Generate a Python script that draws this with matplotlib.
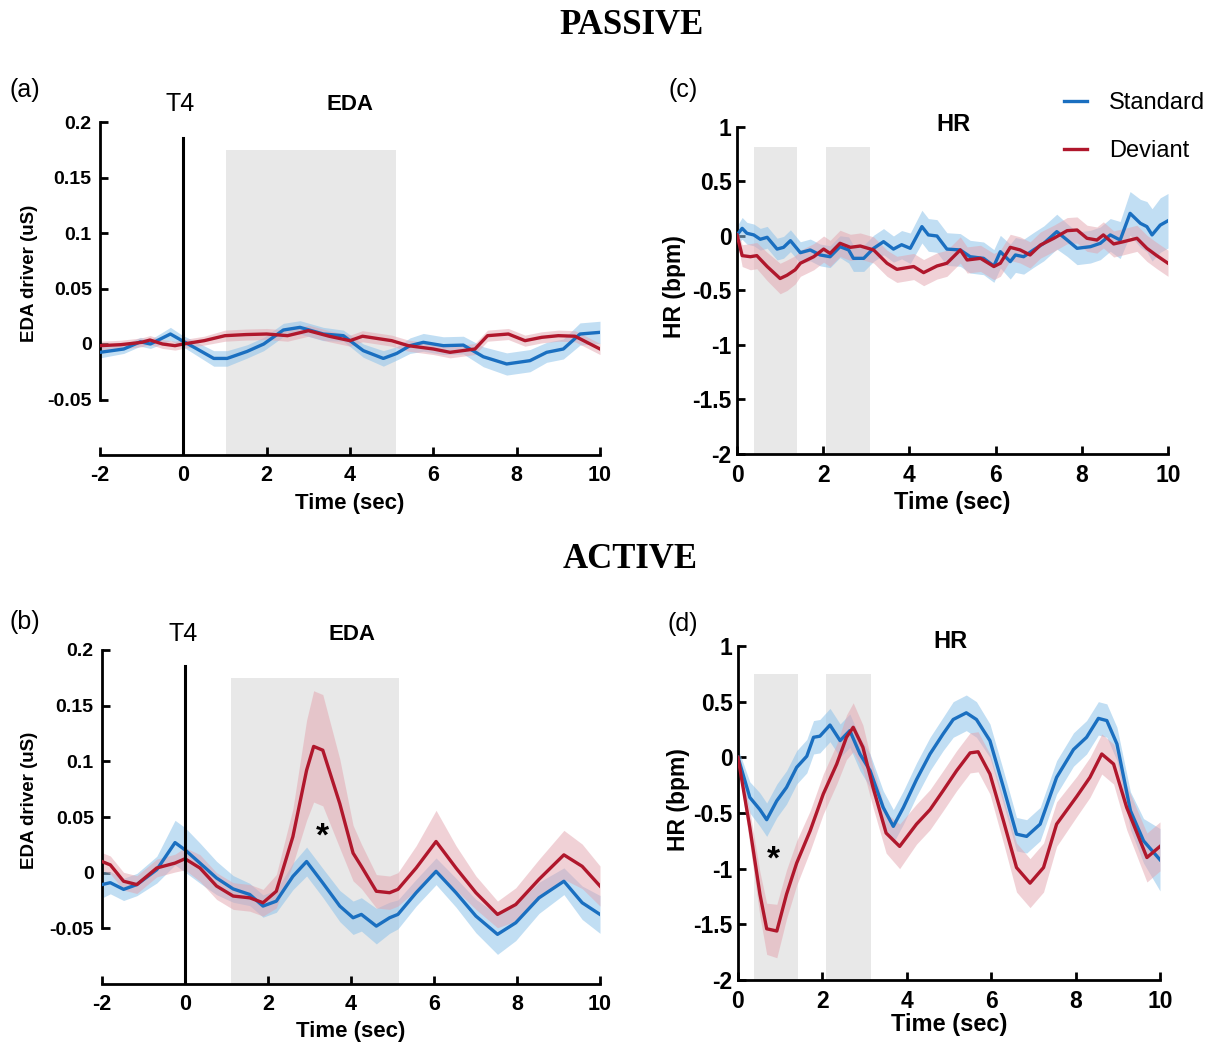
import matplotlib
matplotlib.use("Agg")
import matplotlib.pyplot as plt
import numpy as np

plt.rcParams['font.family'] = ['Liberation Sans', 'DejaVu Sans']

# ---------------- data ----------------
# (a) passive EDA
a_std_t = [-2, -1.43, -1.03, -0.79, -0.31, -0.03, 0.33, 0.73, 1.05, 1.53, 1.93, 2.4, 2.8, 3.36, 3.84,
           4.32, 4.8, 5.12, 5.44, 5.76, 6.24, 6.72, 7.2, 7.76, 8.32, 8.72, 9.12, 9.52, 10]
a_std = [-0.0075, -0.0045, 0.002, 0.0, 0.009, 0.003, -0.0045, -0.013, -0.013, -0.0067, 0.0, 0.0126, 0.015,
         0.009, 0.0075, -0.006, -0.013, -0.0085, -0.0015, 0.0015, -0.0015, -0.001, -0.0115, -0.018, -0.015,
         -0.0075, -0.0045, 0.009, 0.0105]
a_std_sem = [0.005, 0.004, 0.004, 0.004, 0.006, 0.005, 0.006, 0.007, 0.007, 0.006, 0.006, 0.006, 0.006, 0.006,
             0.005, 0.006, 0.007, 0.006, 0.007, 0.008, 0.008, 0.008, 0.009, 0.01, 0.01, 0.009, 0.009, 0.01, 0.01]
a_dev_t = [-2, -1.5, -1.0, -0.8, -0.5, -0.2, 0, 0.5, 1.0, 1.5, 2.0, 2.5, 3.0, 3.5, 4.0, 4.3, 5.0, 5.4, 6.0,
           6.4, 7.0, 7.3, 7.8, 8.2, 8.6, 9.0, 9.4, 10]
a_dev = [-0.0015, -0.0006, 0.0015, 0.0036, 0.0, -0.0015, 0.0, 0.003, 0.0075, 0.0085, 0.009, 0.0075, 0.012,
         0.007, 0.003, 0.007, 0.003, -0.0015, -0.0045, -0.0075, -0.0045, 0.0075, 0.009, 0.003, 0.006, 0.0075,
         0.007, -0.0045]
a_dev_sem = [0.004, 0.004, 0.004, 0.004, 0.004, 0.004, 0.004, 0.004, 0.005, 0.005, 0.005, 0.005, 0.005, 0.005,
             0.005, 0.005, 0.005, 0.005, 0.005, 0.005, 0.005, 0.005, 0.005, 0.005, 0.005, 0.005, 0.005, 0.005]

# (b) active EDA
b_std_t = [-2, -1.8, -1.48, -1.16, -0.68, -0.24, 0, 0.36, 0.76, 1.16, 1.56, 1.88, 2.2, 2.6, 2.93, 3.32, 3.73,
           4.05, 4.25, 4.61, 4.93, 5.13, 5.57, 6.05, 6.53, 7.01, 7.53, 7.97, 8.53, 9.13, 9.57, 10]
b_std = [-0.0107, -0.009, -0.015, -0.0107, 0.0027, 0.027, 0.0205, 0.0086, -0.0048, -0.0146, -0.0196, -0.030,
         -0.0256, -0.0033, 0.010, -0.0092, -0.030, -0.0405, -0.0375, -0.048, -0.0405, -0.0375, -0.018, 0.0012,
         -0.018, -0.039, -0.0554, -0.045, -0.0226, -0.0077, -0.027, -0.0375]
b_std_sem = [0.012, 0.01, 0.01, 0.01, 0.012, 0.02, 0.02, 0.018, 0.015, 0.012, 0.01, 0.01, 0.01, 0.012, 0.013,
             0.013, 0.014, 0.015, 0.015, 0.016, 0.014, 0.013, 0.012, 0.012, 0.013, 0.015, 0.018, 0.016, 0.014,
             0.012, 0.015, 0.017]
b_dev_t = [-2, -1.8, -1.48, -1.16, -0.68, -0.24, 0, 0.36, 0.76, 1.16, 1.56, 1.88, 2.2, 2.6, 2.93, 3.1, 3.32,
           3.73, 4.05, 4.25, 4.61, 4.93, 5.13, 5.57, 6.05, 6.53, 7.01, 7.53, 7.97, 8.53, 9.13, 9.57, 10]
b_dev = [0.010, 0.007, -0.0077, -0.0107, 0.0042, 0.0086, 0.0125, 0.0042, -0.012, -0.021, -0.0226, -0.027,
         -0.0167, 0.0324, 0.092, 0.1134, 0.11, 0.062, 0.0176, 0.0057, -0.0167, -0.018, -0.015, 0.0042, 0.028,
         0.0042, -0.018, -0.0375, -0.0286, -0.006, 0.016, 0.0057, -0.012]
b_dev_sem = [0.008, 0.008, 0.008, 0.008, 0.008, 0.008, 0.01, 0.012, 0.012, 0.012, 0.012, 0.012, 0.015, 0.025,
             0.045, 0.05, 0.05, 0.04, 0.025, 0.02, 0.015, 0.015, 0.015, 0.02, 0.028, 0.02, 0.015, 0.012, 0.015,
             0.018, 0.022, 0.02, 0.018]

# (c) passive HR
c_std_t = [0, 0.12, 0.23, 0.39, 0.54, 0.7, 0.93, 1.08, 1.24, 1.47, 1.7, 1.93, 2.16, 2.39, 2.59, 2.7, 2.94, 3.17,
           3.4, 3.63, 3.82, 4.02, 4.29, 4.44, 4.64, 4.87, 5.18, 5.41, 5.72, 5.96, 6.11, 6.34, 6.46, 6.65, 6.88,
           7.12, 7.42, 7.66, 7.89, 8.2, 8.43, 8.66, 8.89, 9.12, 9.36, 9.51, 9.63, 9.82, 10]
c_std = [0.01, 0.07, 0.025, 0.01, -0.03, -0.012, -0.12, -0.104, -0.043, -0.153, -0.128, -0.174, -0.19, -0.098,
         -0.128, -0.205, -0.205, -0.113, -0.052, -0.12, -0.08, -0.113, 0.086, 0.01, 0.0, -0.12, -0.128, -0.19,
         -0.205, -0.275, -0.144, -0.235, -0.174, -0.19, -0.128, -0.067, 0.04, -0.037, -0.113, -0.098, -0.067,
         0.01, -0.037, 0.208, 0.116, 0.086, 0.01, 0.1, 0.14]
c_std_sem = [0.08, 0.1, 0.1, 0.1, 0.1, 0.1, 0.1, 0.1, 0.1, 0.1, 0.1, 0.1, 0.1, 0.1, 0.12, 0.12, 0.12, 0.12, 0.12,
             0.12, 0.13, 0.14, 0.15, 0.15, 0.15, 0.15, 0.15, 0.15, 0.15, 0.15, 0.15, 0.16, 0.16, 0.16, 0.16, 0.16,
             0.16, 0.15, 0.15, 0.15, 0.15, 0.15, 0.17, 0.2, 0.22, 0.23, 0.24, 0.25, 0.25]
c_dev_t = [0, 0.12, 0.31, 0.46, 0.7, 1.0, 1.16, 1.35, 1.47, 1.78, 2.01, 2.16, 2.39, 2.63, 2.86, 3.17, 3.48, 3.71,
           4.1, 4.33, 4.64, 4.87, 5.18, 5.34, 5.65, 5.96, 6.11, 6.34, 6.57, 6.8, 7.04, 7.35, 7.66, 7.89, 8.12,
           8.35, 8.5, 8.74, 8.97, 9.28, 9.51, 9.74, 10]
c_dev = [0.01, -0.18, -0.19, -0.18, -0.28, -0.39, -0.36, -0.31, -0.25, -0.19, -0.12, -0.16, -0.067, -0.104,
         -0.092, -0.128, -0.25, -0.306, -0.28, -0.336, -0.275, -0.25, -0.128, -0.22, -0.205, -0.28, -0.25,
         -0.104, -0.128, -0.174, -0.083, -0.021, 0.049, 0.055, -0.021, -0.037, 0.01, -0.073, -0.052, -0.021,
         -0.113, -0.18, -0.25]
c_dev_sem = [0.05, 0.1, 0.12, 0.12, 0.13, 0.14, 0.14, 0.13, 0.12, 0.12, 0.12, 0.12, 0.12, 0.12, 0.12, 0.12,
             0.12, 0.12, 0.12, 0.12, 0.12, 0.12, 0.12, 0.12, 0.12, 0.12, 0.12, 0.12, 0.12, 0.12, 0.12, 0.12,
             0.12, 0.12, 0.12, 0.12, 0.12, 0.12, 0.12, 0.12, 0.12, 0.12, 0.12]

# (d) active HR
d_std_t = [0, 0.28, 0.52, 0.68, 0.92, 1.15, 1.39, 1.63, 1.79, 1.94, 2.18, 2.42, 2.65, 2.89, 3.13, 3.44, 3.68,
           3.92, 4.23, 4.55, 4.86, 5.1, 5.41, 5.65, 5.97, 6.29, 6.6, 6.84, 7.16, 7.55, 7.95, 8.26, 8.54, 8.74,
           8.98, 9.3, 9.61, 10]
d_std = [0.0, -0.36, -0.47, -0.56, -0.39, -0.27, -0.09, 0.01, 0.18, 0.19, 0.29, 0.15, 0.24, 0.03, -0.12, -0.45,
         -0.62, -0.45, -0.2, 0.03, 0.21, 0.34, 0.4, 0.34, 0.15, -0.27, -0.69, -0.71, -0.6, -0.18, 0.07, 0.18,
         0.35, 0.33, 0.12, -0.48, -0.75, -0.92]
d_std_sem = [0.08, 0.14, 0.15, 0.15, 0.15, 0.15, 0.15, 0.15, 0.15, 0.15, 0.15, 0.15, 0.15, 0.15, 0.15, 0.15,
             0.15, 0.15, 0.15, 0.15, 0.15, 0.16, 0.16, 0.16, 0.15, 0.15, 0.15, 0.15, 0.15, 0.15, 0.15, 0.15,
             0.15, 0.15, 0.15, 0.17, 0.2, 0.28]
d_dev_t = [0, 0.28, 0.52, 0.68, 0.92, 1.15, 1.39, 1.71, 2.02, 2.34, 2.57, 2.73, 2.96, 3.2, 3.51, 3.83, 4.23,
           4.55, 4.86, 5.18, 5.5, 5.69, 5.97, 6.29, 6.6, 6.92, 7.24, 7.55, 8.03, 8.34, 8.62, 8.9, 9.21, 9.69, 10]
d_dev = [0.0, -0.63, -1.23, -1.54, -1.56, -1.23, -0.95, -0.66, -0.33, -0.06, 0.18, 0.27, 0.09, -0.27, -0.68,
         -0.8, -0.6, -0.47, -0.3, -0.12, 0.04, 0.05, -0.15, -0.57, -0.99, -1.13, -0.99, -0.6, -0.35, -0.18,
         0.03, -0.06, -0.45, -0.9, -0.8]
d_dev_sem = [0.05, 0.15, 0.2, 0.23, 0.24, 0.22, 0.2, 0.18, 0.18, 0.18, 0.2, 0.22, 0.2, 0.18, 0.18, 0.2, 0.18,
             0.18, 0.18, 0.18, 0.18, 0.18, 0.18, 0.2, 0.22, 0.22, 0.22, 0.2, 0.18, 0.18, 0.18, 0.18, 0.2, 0.22,
             0.22]

legend_labels = ['Standard', 'Deviant']
eda_yticks = [-0.05, 0, 0.05, 0.1, 0.15, 0.2]
eda_yticklabels = ['-0.05', '0', '0.05', '0.1', '0.15', '0.2']
eda_xticks = [-2, 0, 2, 4, 6, 8, 10]
hr_yticks = [-2, -1.5, -1, -0.5, 0, 0.5, 1]
hr_yticklabels = ['-2', '-1.5', '-1', '-0.5', '0', '0.5', '1']
hr_xticks = [0, 2, 4, 6, 8, 10]

# analysis windows (shaded)
a_window = [(1.03, 5.1)]
b_window = [(1.1, 5.15)]
c_windows = [(0.4, 1.4), (2.07, 3.08)]
d_windows = [(0.38, 1.42), (2.09, 3.16)]
eda_shade_top = 0.175
c_shade_top = 0.82
d_shade_top = 0.75
t4_time = 0
t4_top = 0.186
b_star = (3.3, 0.032)
d_star = (0.83, -0.92)

BLUE = '#1a6fc0'
RED = '#b0172c'
BAND_BLUE = '#8ec3ea'
BAND_RED = '#e3a4ae'
SHADE = '#e8e8e8'

W, H = 1215, 1046
fig = plt.figure(figsize=(W / 100, H / 100), dpi=100)


def rect(x0, x1, ytop, ybot):
    return [x0 / W, 1 - ybot / H, (x1 - x0) / W, (ybot - ytop) / H]


RA = (100, 600, 122, 455)
RB = (102, 600, 650, 984)
RC = (737, 1168, 127, 454)
RD = (738, 1160, 646, 980)
ax_a = fig.add_axes(rect(*RA))
ax_b = fig.add_axes(rect(*RB))
ax_c = fig.add_axes(rect(*RC))
ax_d = fig.add_axes(rect(*RD))


def style(ax, r, xlim, ylim, ybounds, xticks, yticks, yticklabels, ylabel, fs_x, fs_y, fs_xl, fs_yl,
          xl_y, yl_pos, ypad):
    ax.set_xlim(*xlim)
    ax.set_ylim(*ylim)
    for s in ['top', 'right']:
        ax.spines[s].set_visible(False)
    ax.spines['left'].set_bounds(*ybounds)
    ax.spines['left'].set_linewidth(2)
    ax.spines['bottom'].set_linewidth(2)
    ax.set_xticks(xticks)
    ax.set_xticklabels([str(t) for t in xticks])
    ax.set_yticks(yticks)
    ax.set_yticklabels(yticklabels)
    ax.tick_params(direction='in', length=6, width=2)
    ax.tick_params(axis='x', labelsize=fs_x, pad=7)
    ax.tick_params(axis='y', labelsize=fs_y, pad=ypad)
    for lab in ax.get_xticklabels() + ax.get_yticklabels():
        lab.set_fontweight('bold')
    x0, x1, yt, yb = r
    ax.set_xlabel('Time (sec)', fontsize=fs_xl, fontweight='bold')
    ax.xaxis.set_label_coords(((x0 + x1) / 2 - x0) / (x1 - x0), (yb - xl_y) / (yb - yt))
    ax.xaxis.label.set_va('center')
    ax.set_ylabel(ylabel, fontsize=fs_yl, fontweight='bold')
    ax.yaxis.set_label_coords((yl_pos[0] - x0) / (x1 - x0), (yb - yl_pos[1]) / (yb - yt))
    ax.yaxis.label.set_va('center')
    ax.patch.set_alpha(0)


def series(ax, t, y, sem, color, band, alpha):
    t = np.asarray(t); y = np.asarray(y); sem = np.asarray(sem)
    ax.fill_between(t, y - sem, y + sem, color=band, alpha=alpha, lw=0, zorder=2)
    line, = ax.plot(t, y, color=color, lw=2.4, zorder=3)
    return line


def shades(ax, windows, ybot, ytop):
    for x0, x1 in windows:
        ax.fill_between([x0, x1], ybot, ytop, color=SHADE, lw=0, zorder=0)


# ---- (a)
shades(ax_a, a_window, -0.1, eda_shade_top)
series(ax_a, a_std_t, a_std, a_std_sem, BLUE, BAND_BLUE, 0.55)
series(ax_a, a_dev_t, a_dev, a_dev_sem, RED, BAND_RED, 0.5)
ax_a.plot([t4_time, t4_time], [-0.1, t4_top], color='black', lw=2.2, zorder=4)
style(ax_a, RA, (-2, 10), (-0.1, 0.2), (-0.05, 0.2), eda_xticks, eda_yticks, eda_yticklabels,
      'EDA driver (uS)', 15.5, 14, 16, 13.5, 503, (30, 273), 6)

# ---- (b)
shades(ax_b, b_window, -0.1, eda_shade_top)
series(ax_b, b_std_t, b_std, b_std_sem, BLUE, BAND_BLUE, 0.55)
series(ax_b, b_dev_t, b_dev, b_dev_sem, RED, BAND_RED, 0.5)
ax_b.plot([t4_time, t4_time], [-0.1, t4_top], color='black', lw=2.2, zorder=4)
ax_b.text(*b_star, '*', fontsize=24, fontweight='bold', ha='center', va='center', zorder=5)
style(ax_b, RB, (-2, 10), (-0.1, 0.2), (-0.05, 0.2), eda_xticks, eda_yticks, eda_yticklabels,
      'EDA driver (uS)', 15.5, 14, 16, 13.5, 1031, (30, 800), 6)

# ---- (c)
shades(ax_c, c_windows, -2, c_shade_top)
l_std = series(ax_c, c_std_t, c_std, c_std_sem, BLUE, BAND_BLUE, 0.55)
l_dev = series(ax_c, c_dev_t, c_dev, c_dev_sem, RED, BAND_RED, 0.5)
style(ax_c, RC, (0, 10), (-2, 1), (-2, 1), hr_xticks, hr_yticks, hr_yticklabels, 'HR (bpm)',
      16.5, 16.5, 17, 16.5, 503, (675, 287), 4)

# ---- (d)
shades(ax_d, d_windows, -2, d_shade_top)
series(ax_d, d_std_t, d_std, d_std_sem, BLUE, BAND_BLUE, 0.55)
series(ax_d, d_dev_t, d_dev, d_dev_sem, RED, BAND_RED, 0.5)
ax_d.text(*d_star, '*', fontsize=24, fontweight='bold', ha='center', va='center', zorder=5)
style(ax_d, RD, (0, 10), (-2, 1), (-2, 1), hr_xticks, hr_yticks, hr_yticklabels, 'HR (bpm)',
      16.5, 16.5, 17, 16.5, 1024, (678, 800), 4)

# ---- texts
def ftext(x, y, s, **kw):
    fig.text(x / W, 1 - y / H, s, **kw)

ftext(632, 25, 'PASSIVE', family=['Liberation Serif', 'DejaVu Serif'], fontweight='bold', fontsize=25,
      ha='center', va='center')
ftext(630, 559, 'ACTIVE', family=['Liberation Serif', 'DejaVu Serif'], fontweight='bold', fontsize=25,
      ha='center', va='center')
ftext(25, 90, '(a)', fontsize=18, ha='center', va='center')
ftext(25, 622, '(b)', fontsize=18, ha='center', va='center')
ftext(683, 90, '(c)', fontsize=18, ha='center', va='center')
ftext(683, 624, '(d)', fontsize=18, ha='center', va='center')
ftext(180, 104, 'T4', fontsize=18, ha='center', va='center')
ftext(183, 634, 'T4', fontsize=18, ha='center', va='center')
ftext(350, 105, 'EDA', fontsize=16, fontweight='bold', ha='center', va='center')
ftext(352, 634, 'EDA', fontsize=16, fontweight='bold', ha='center', va='center')
ftext(953, 124, 'HR', fontsize=17, fontweight='bold', ha='center', va='center')
ftext(950, 642, 'HR', fontsize=17, fontweight='bold', ha='center', va='center')

fig.legend([l_std, l_dev], legend_labels, loc='upper left', bbox_to_anchor=(1043 / W, 1 - 71 / H),
           frameon=False, fontsize=17, handlelength=0.95, handletextpad=0.95, labelspacing=1.1)

fig.savefig('out.png', dpi=100)
